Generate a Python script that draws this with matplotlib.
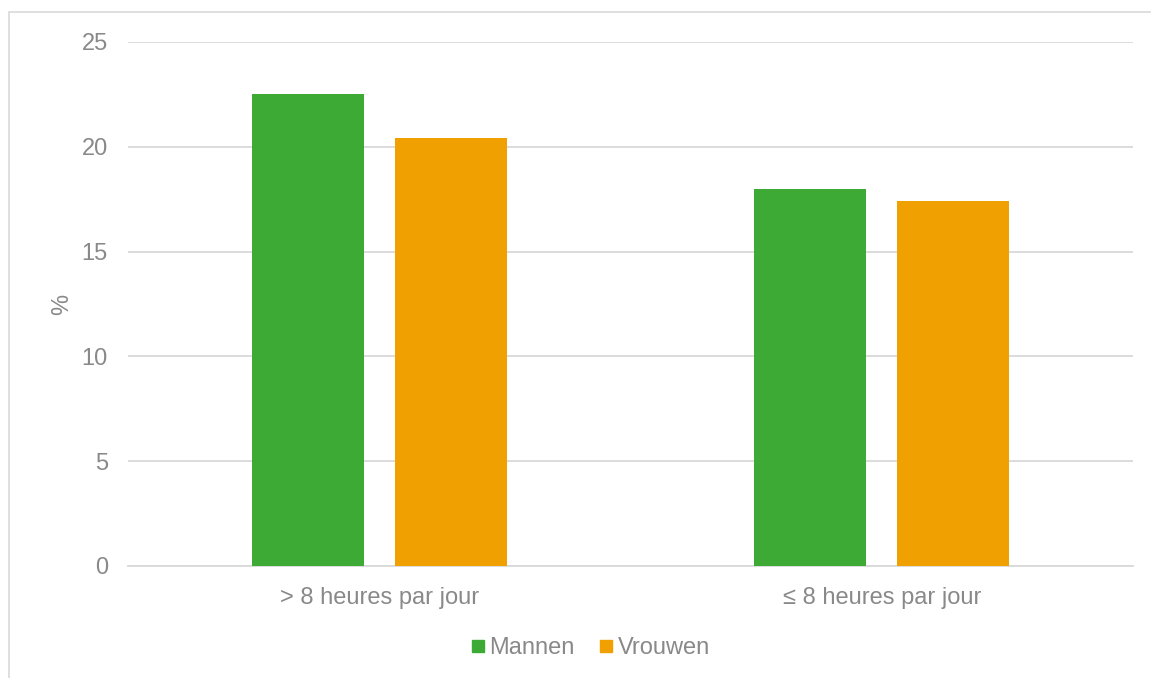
import numpy as np
import matplotlib.pyplot as plt
from matplotlib.lines import Line2D
from matplotlib.patches import Rectangle

# data
categories = ['> 8 heures par jour', '≤ 8 heures par jour']
series = ['Mannen', 'Vrouwen']
mannen = [22.5, 18.0]
vrouwen = [20.4, 17.4]
colors = ['#3DAA35', '#F0A000']

plt.rcParams['font.family'] = ['Liberation Sans', 'DejaVu Sans']
plt.rcParams['font.size'] = 17
txt = '#898989'
grid = '#D9D9D9'

fig = plt.figure(figsize=(11.51, 6.78), dpi=100)
ax = fig.add_axes([128 / 1151, 1 - 566 / 678, 1005 / 1151, 524 / 678])

x = np.arange(len(categories))
w = 0.223
off = 0.1424
ax.bar(x - off, mannen, w, color=colors[0], zorder=3)
ax.bar(x + off, vrouwen, w, color=colors[1], zorder=3)

ax.set_xlim(-0.5, 1.5)
ax.set_ylim(0, 25)
ax.set_yticks(range(0, 26, 5))
ax.set_xticks(x)
ax.set_xticklabels(categories)
ax.yaxis.grid(True, color=grid, linewidth=1.3, zorder=0)
for s in ['top', 'right', 'left']:
    ax.spines[s].set_visible(False)
ax.spines['bottom'].set_color(grid)
ax.spines['bottom'].set_linewidth(1.3)
ax.tick_params(axis='both', length=0, colors=txt, labelsize=17)
ax.tick_params(axis='y', pad=14.5)
ax.tick_params(axis='x', pad=15)
ax.set_ylabel('%', color=txt, fontsize=17, labelpad=6)

handles = [Line2D([], [], marker='s', linestyle='none', markersize=9,
                  color=c) for c in colors]
fig.legend(handles, series, loc='center', bbox_to_anchor=(589 / 1151, 1 - 648 / 678),
           ncol=2, frameon=False, handletextpad=0.1, columnspacing=0.9,
           handlelength=0.8, labelcolor=txt, fontsize=17)

# chart border
fig.add_artist(Rectangle((9 / 1151, -0.1), 1.2, (678 - 12) / 678 + 0.1,
                         transform=fig.transFigure, fill=False,
                         edgecolor=grid, linewidth=1.2))

fig.savefig('out.png', dpi=100)
